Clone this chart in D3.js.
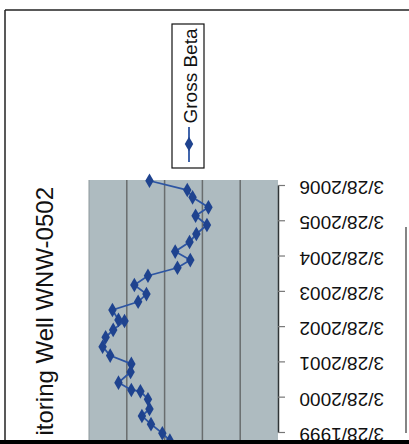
<!DOCTYPE html>
<html>
<head>
<meta charset="utf-8">
<script src="https://cdn.jsdelivr.net/npm/d3@7"></script>
<style>
  html, body { margin: 0; padding: 0; background: #fff; }
  svg { display: block; }
  text { font-family: "Liberation Sans", Arial, sans-serif; }
</style>
</head>
<body>
<svg id="chart" width="409" height="444"></svg>
<script>
// ---- data ----
const sampleDates = [
  "2006-05-11","2006-02-04","2005-11-20","2005-08-09","2005-05-14","2005-02-07",
  "2004-11-06","2004-08-15","2004-05-08","2004-02-10","2003-11-22","2003-09-01",
  "2003-05-28","2003-02-23","2002-12-05","2002-09-11","2002-05-31","2002-05-20",
  "2002-02-17","2001-12-03","2001-08-27","2001-05-27","2001-03-02","2000-12-08",
  "2000-08-20","2000-06-05","2000-05-22","2000-03-01","1999-11-21","1999-09-10",
  "1999-06-17","1999-03-15","1998-12-28","1998-10-15"
];
const grossBeta = [
  17.0, 12.0, 11.3, 9.2, 10.9, 9.4,
  10.8, 11.7, 13.6, 11.6, 13.3, 17.2,
  19.0, 17.4, 18.5, 21.9, 21.1, 20.3,
  21.8, 22.8, 23.2, 22.2, 19.4, 19.5,
  21.1, 19.4, 18.2, 17.2, 17.0, 18.0,
  16.8, 15.3, 14.3, 13.5
];
const tickDates = ["1999-03-28","2000-03-28","2001-03-28","2002-03-28","2003-03-28","2004-03-28","2005-03-28","2006-03-28"];
const tickLabels = ["3/28/1999","3/28/2000","3/28/2001","3/28/2002","3/28/2003","3/28/2004","3/28/2005","3/28/2006"];
const valueTicks = [0, 5, 10, 15, 20, 25];
const seriesName = "Gross Beta";
const titleText = "itoring Well WNW-0502";   // visible part of the (cropped) title

// ---- drawing ----
const parse = d3.timeParse("%Y-%m-%d");
const data = sampleDates.map((d, i) => ({ date: parse(d), value: grossBeta[i] }));

const svg = d3.select("#chart");

// plot area (the chart is shown rotated: time runs upward, values grow to the left)
const plotLeft = 89, plotRight = 278, plotTop = 180, plotBottom = 444;

const y = d3.scaleTime()
  .domain([parse(tickDates[0]), parse(tickDates[tickDates.length - 1])])
  .range([432, 185]);
const x = d3.scaleLinear().domain([0, 25]).range([plotRight, plotLeft]);

// outer frame
svg.append("line").attr("x1", 5).attr("y1", 10).attr("x2", 409).attr("y2", 10)
  .attr("stroke", "#222").attr("stroke-width", 1.5);
svg.append("line").attr("x1", 5).attr("y1", 10).attr("x2", 5).attr("y2", 444)
  .attr("stroke", "#222").attr("stroke-width", 1.5);
svg.append("line").attr("x1", 406).attr("y1", 227).attr("x2", 406).attr("y2", 433)
  .attr("stroke", "#333").attr("stroke-width", 1.2);

// plot background
svg.append("rect")
  .attr("x", plotLeft).attr("y", plotTop)
  .attr("width", plotRight - plotLeft).attr("height", plotBottom - plotTop)
  .attr("fill", "#aebbc0");

// gridlines (value axis)
svg.append("g").selectAll("line")
  .data(valueTicks.slice(1, -1))
  .join("line")
  .attr("x1", d => x(d)).attr("x2", d => x(d))
  .attr("y1", plotTop).attr("y2", plotBottom)
  .attr("stroke", "#696d6e").attr("stroke-width", 1.5);
svg.append("line").attr("x1", plotLeft).attr("x2", plotLeft)
  .attr("y1", plotTop).attr("y2", plotBottom)
  .attr("stroke", "#8d989b").attr("stroke-width", 1);

// date axis on the right
const axis = d3.axisRight(y)
  .tickValues(tickDates.map(parse))
  .tickFormat((d, i) => tickLabels[i])
  .tickSize(7)
  .tickSizeOuter(0);
const gAxis = svg.append("g").attr("transform", `translate(${plotRight},0)`).call(axis);
gAxis.select(".domain").attr("stroke", "#2f3436").attr("stroke-width", 1.5);
gAxis.selectAll(".tick line").attr("stroke", "#777").attr("stroke-width", 1.2);
gAxis.selectAll(".tick text")
  .attr("x", 0).attr("dy", null)
  .attr("transform", "translate(106,2) rotate(180)")
  .attr("text-anchor", "start")
  .attr("dominant-baseline", "central")
  .attr("fill", "#111")
  .style("font-size", "19px")
  .style("font-family", "'Liberation Sans', Arial, sans-serif");

// series line
const line = d3.line().x(d => x(d.value)).y(d => y(d.date));
svg.append("path").datum(data)
  .attr("d", line)
  .attr("fill", "none")
  .attr("stroke", "#2d55a3")
  .attr("stroke-width", 1.8);

svg.append("g").selectAll("path")
  .data(data)
  .join("path")
  .attr("d", d3.symbol().type(d3.symbolDiamond).size(62))
  .attr("transform", d => `translate(${x(d.value)},${y(d.date)})`)
  .attr("fill", "#1f438f");

// legend
svg.append("rect").attr("x", 172).attr("y", 24).attr("width", 32).attr("height", 144)
  .attr("fill", "#fff").attr("stroke", "#111").attr("stroke-width", 1.2);
svg.append("line").attr("x1", 189).attr("x2", 189).attr("y1", 127).attr("y2", 162)
  .attr("stroke", "#2d55a3").attr("stroke-width", 1.8);
svg.append("path").attr("d", d3.symbol().type(d3.symbolDiamond).size(62))
  .attr("transform", "translate(189,144)").attr("fill", "#1f438f");
svg.append("text")
  .attr("transform", "translate(197,76) rotate(-90)")
  .attr("text-anchor", "middle")
  .style("font-size", "19px")
  .attr("fill", "#111")
  .text(seriesName);

// title (rotated, cropped by the scan at the bottom)
svg.append("text")
  .attr("transform", "translate(53,187) rotate(-90)")
  .attr("text-anchor", "end")
  .style("font-size", "24px")
  .attr("fill", "#111")
  .text(titleText);

// dark bottom edge of the scan
svg.append("rect").attr("x", 0).attr("y", 440).attr("width", 409).attr("height", 4).attr("fill", "#000");
</script>
</body>
</html>
